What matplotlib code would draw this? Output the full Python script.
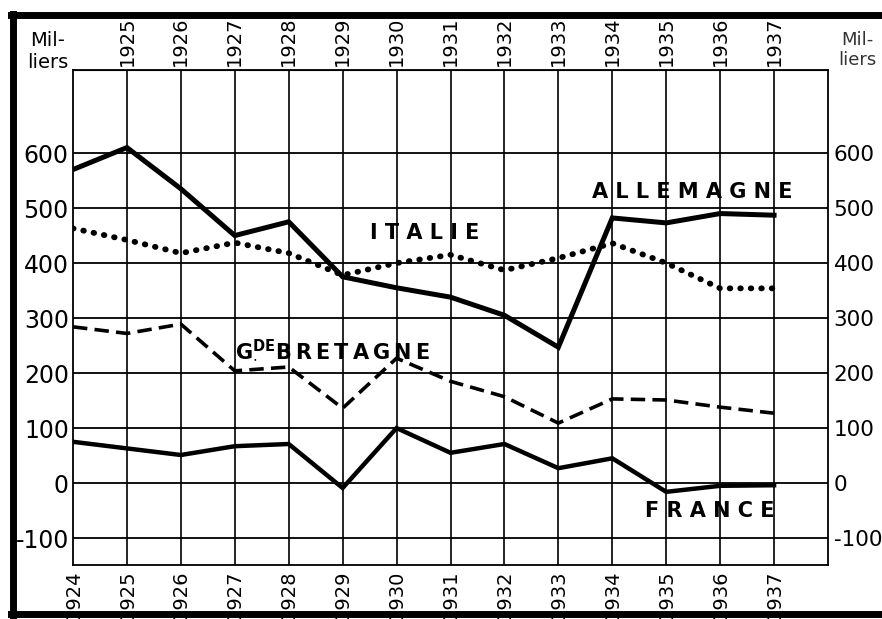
import numpy as np
import matplotlib
matplotlib.use("Agg")
import matplotlib.pyplot as plt
from matplotlib.lines import Line2D

# years and values (milliers)
years = [1924, 1925, 1926, 1927, 1928, 1929, 1930, 1931, 1932, 1933, 1934, 1935, 1936, 1937]
allemagne = [570, 610, 535, 450, 475, 375, 355, 338, 305, 247, 482, 473, 490, 487]
italie = [463, 442, 418, 437, 418, 378, 400, 415, 387, 409, 436, 400, 354, 354]
bretagne = [284, 272, 289, 204, 211, 136, 227, 185, 157, 109, 153, 151, 138, 127]
france = [75, 63, 51, 67, 71, -9, 100, 55, 71, 27, 45, -16, -5, -4]
yticks = [-100, 0, 100, 200, 300, 400, 500, 600]

fig = plt.figure(figsize=(8.82, 6.19), dpi=100)
ax = fig.add_axes([73/882, 1 - 565/619, (828 - 73)/882, (565 - 70)/619])

ax.set_xlim(1924, 1938)
ax.set_ylim(-149, 751)

# grid
for y in yticks:
    ax.axhline(y, color="black", lw=1.3, zorder=1)
for x in years[1:]:
    ax.axvline(x, color="black", lw=1.2, zorder=1)
for sp in ax.spines.values():
    sp.set_linewidth(1.3)

# series
ax.plot(years, allemagne, color="black", lw=3.6, solid_joinstyle="miter", zorder=3)
ax.plot(years, italie, color="black", lw=4.2, linestyle=(0, (0.1, 1.7)),
        dash_capstyle="round", zorder=3)
ax.plot(years, bretagne, color="black", lw=2.6, linestyle=(0, (4, 2)), zorder=3)
ax.plot(years, france, color="black", lw=3.2, solid_joinstyle="miter", zorder=3)

# series names
lab = dict(fontsize=15, fontweight="bold", color="black", ha="center", va="center",
           family="DejaVu Sans")
ax.text(1930.53, 455, "I T A L I E", **lab)
ax.text(1935.48, 530, "A L L E M A G N E", **lab)
ax.text(1935.81, -50, "F R A N C E", **lab)
ax.text(1928.82, 244, "G$^{\\mathbf{DE}}_{\\cdot}$B\u2009R\u2009E\u2009T\u2009A\u2009G\u2009N\u2009E", **lab)

# ticks
ax.set_xticks(years)
ax.set_xticklabels([str(y) for y in years], rotation=90, fontsize=14)
ax.set_yticks(yticks)
ax.set_yticklabels([str(y) for y in yticks], fontsize=17)
ax.tick_params(axis="both", length=0, pad=3)

# right scale, a bit smaller so it stays inside the page
rt = ax.twinx()
rt.set_ylim(ax.get_ylim())
rt.set_yticks(yticks)
rt.set_yticklabels([str(y) for y in yticks], fontsize=15.5)
rt.tick_params(length=0, pad=4)
for sp in rt.spines.values():
    sp.set_visible(False)

top = ax.secondary_xaxis("top")
top.set_xticks(years[1:])
top.set_xticklabels([str(y) for y in years[1:]], rotation=90, fontsize=14)
top.tick_params(length=0, pad=3)

fig.text(48/882, 1 - 52/619, "Mil-\nliers", fontsize=14, ha="center", va="center",
         linespacing=1.2)
fig.text(857/882, 1 - 50/619, "Mil-\nliers", fontsize=13, ha="center", va="center",
         linespacing=1.2, color="#333333")

# thick frame of the scan
fig.add_artist(Line2D([13/882, 13/882], [1 - 14/619, 1 - 615/619], color="black", lw=5,
                      transform=fig.transFigure))
fig.add_artist(Line2D([11/882, 1.0], [1 - 15/619, 1 - 15/619], color="black", lw=5,
                      transform=fig.transFigure))
fig.add_artist(Line2D([11/882, 1.0], [1 - 614/619, 1 - 614/619], color="black", lw=5,
                      transform=fig.transFigure))

fig.savefig("out.png", dpi=100)
